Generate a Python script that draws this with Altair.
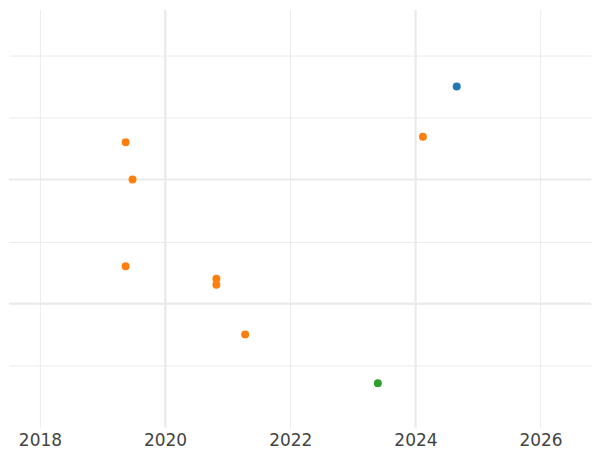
import altair as alt
import pandas as pd

years = [2024.66, 2024.12, 2019.37, 2019.48, 2019.37, 2020.82, 2020.82, 2021.28, 2023.40]
values = [5.50, 4.69, 4.60, 4.00, 2.60, 2.40, 2.30, 1.50, 0.71]
groups = ["A", "B", "B", "B", "B", "B", "B", "B", "C"]
group_names = ["A", "B", "C"]
group_colors = ["#1f77b4", "#ff7f0e", "#2ca02c"]
x_ticks = [2018, 2020, 2022, 2024, 2026]
y_ticks = [1, 2, 3, 4, 5, 6]
x_major = [2020, 2024]
y_major = [2, 4]

X_DOMAIN = [2017.506, 2026.806]
Y_DOMAIN = [0, 6.74]
GRID = "#ebebeb"

df = pd.DataFrame({"year": years, "value": values, "group": groups})
xr = pd.DataFrame({"year": x_major})
yr = pd.DataFrame({"value": y_major})

xs = alt.Scale(domain=X_DOMAIN, nice=False, zero=False)
ys = alt.Scale(domain=Y_DOMAIN, nice=False, zero=False)

points = alt.Chart(df).mark_circle(size=64, opacity=1).encode(
    x=alt.X("year:Q", scale=xs,
            axis=alt.Axis(values=x_ticks, format="d", title=None, domain=False, ticks=False,
                          labelFontSize=17, labelColor="#444444", labelPadding=5,
                          labelFont="DejaVu Sans", gridColor=GRID, gridWidth=1)),
    y=alt.Y("value:Q", scale=ys,
            axis=alt.Axis(values=y_ticks, labels=False, title=None, domain=False, ticks=False,
                          gridColor=GRID, gridWidth=1)),
    color=alt.Color("group:N", scale=alt.Scale(domain=group_names, range=group_colors), legend=None),
)

vrules = alt.Chart(xr).mark_rule(color=GRID, strokeWidth=2).encode(
    x=alt.X("year:Q", scale=xs),
)
hrules = alt.Chart(yr).mark_rule(color=GRID, strokeWidth=2).encode(
    y=alt.Y("value:Q", scale=ys),
)

chart = alt.layer(vrules, hrules, points).properties(
    width=584, height=419, padding={"left": 0, "top": 0, "right": 0, "bottom": 0},
    autosize=alt.AutoSizeParams(type="pad"),
).configure_view(stroke=None)

chart.save("out.html", embed_options={"renderer": "svg", "actions": False})
